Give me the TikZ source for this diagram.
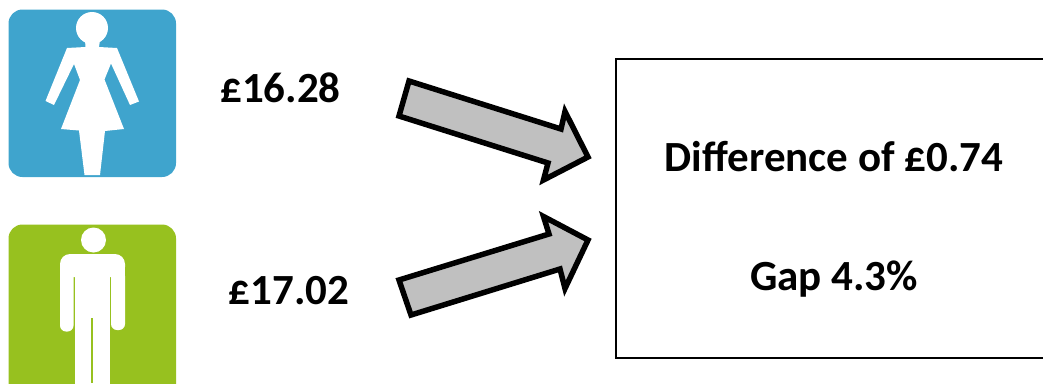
\documentclass[tikz,border=0pt]{standalone}
\usepackage{fontspec}
\setmainfont{Carlito}
\definecolor{womanblue}{HTML}{3FA4CD}
\definecolor{mangreen}{HTML}{97C11F}
\definecolor{arrowgrey}{HTML}{C0C0C0}
\tikzset{
  lbl/.style={font=\fontsize{43}{50}\selectfont\bfseries,text=black,inner sep=0pt,anchor=center},
  fatarrow/.style={draw=black,fill=arrowgrey,line width=5.5pt,miter limit=10,line join=miter},
  figure/.style={fill=white,draw=none}
}
\begin{document}
\begin{tikzpicture}[x=1pt,y=-1pt]
\useasboundingbox (0,0) rectangle (1043,383);
% woman tile
\fill[womanblue,rounded corners=14pt] (8.5,9.5) rectangle (176,177);
\fill[figure] (92,28) circle (16);
\fill[figure] (85,40) -- (85.5,47) -- (67,48) -- (45.5,101) -- (54,105) -- (74,64) -- (80,80) -- (61,129) -- (79,130.5) -- (84.5,175) -- (100,175) -- (105,131) -- (124,129) -- (104.5,79.5) -- (111,63.5) -- (130,105) -- (139,101.5) -- (117,48) -- (99,47) -- (100,40) -- cycle;
% man tile
\begin{scope}
\clip (0,0) rectangle (1043,383);
\fill[mangreen,rounded corners=14pt] (8.5,224.5) rectangle (176,400);
\fill[figure] (93.5,240) circle (12.5);
\fill[figure,rounded corners=10pt] (60,277) -- (60,254) -- (125,254) -- (125,277) -- cycle;
\fill[figure] (60,266) rectangle (125,277);
\fill[figure,rounded corners=6pt] (60,270) rectangle (73.5,331.5);
\fill[figure,rounded corners=6pt] (111,270) rectangle (125,330);
\fill[figure] (75,260) rectangle (109.5,395);
\fill[mangreen] (90.5,318) rectangle (93,383);
\end{scope}
% labels
\node[lbl] (price1) at (280.5,88) {£16.28};
\node[lbl] (price2) at (289,291) {£17.02};
% arrows
\draw[fatarrow] (409,81) -- (561,129) -- (565,111.5) -- (588,157) -- (543.5,180) -- (548,163) -- (399,116) -- cycle;
\draw[fatarrow] (399,280) -- (549,234) -- (543.5,216.5) -- (588,240) -- (565,288.5) -- (560,269) -- (411,315) -- cycle;
% result box, cut off by the right edge of the picture
\draw[black,line width=2pt] (1043,59) -- (615.7,59) -- (615.7,357.6) -- (1043,357.6);
\node[lbl] (diff) at (834,157) {Difference of £0.74};
\node[lbl] (gap) at (834,279) {Gap 4.3\%};
\end{tikzpicture}
\end{document}
